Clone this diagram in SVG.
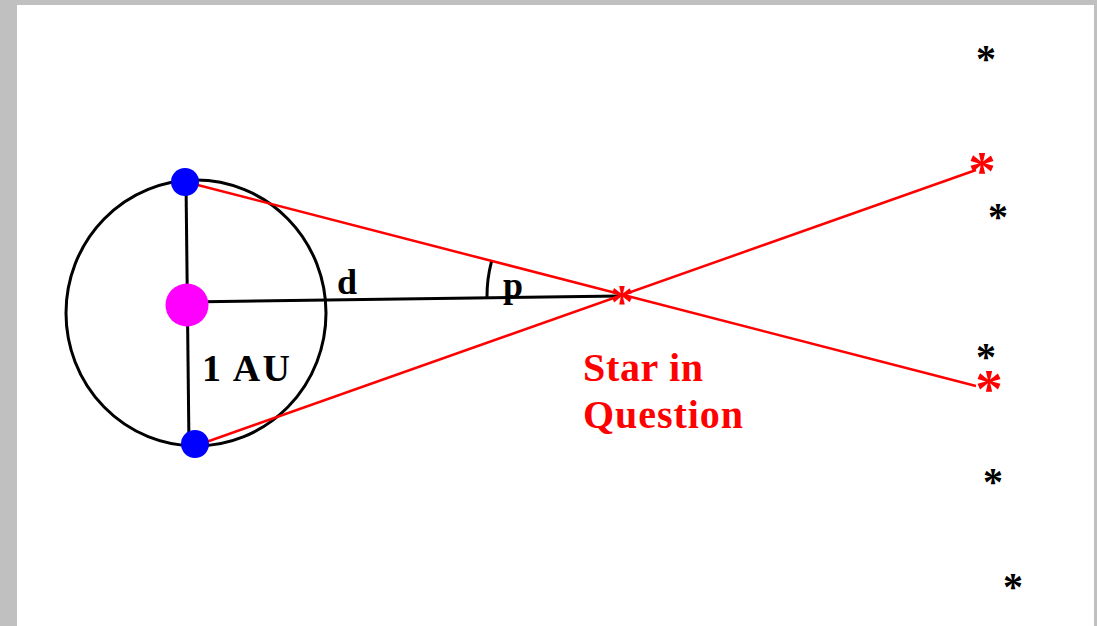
<svg xmlns="http://www.w3.org/2000/svg" width="1097" height="626" viewBox="0 0 1097 626">
<style>
.blk{stroke:#000;stroke-width:3;fill:none}
.red{stroke:#f00;stroke-width:2.5;fill:none}
.lbl{font-family:"Liberation Serif","Times New Roman",serif;font-weight:bold}
.star{font-family:"Liberation Serif","Times New Roman",serif;font-weight:bold;text-anchor:middle}
</style>
<rect x="0" y="0" width="1097" height="626" fill="#c0c0c0"/>
<rect x="17" y="5" width="1077" height="621" fill="#fff"/>
<g id="orbit">
<ellipse cx="196" cy="313" rx="130" ry="133" class="blk" stroke-width="2.5"/>
</g>
<g id="connectors">
<line x1="186" y1="182" x2="189" y2="446" class="blk"/>
<line x1="187" y1="302" x2="620" y2="296" class="blk"/>
<line x1="186" y1="182" x2="976" y2="386" class="red"/>
<line x1="195" y1="446" x2="976" y2="170" class="red"/>
<path d="M487,297 A135,135 0 0,1 491.4,261.8" class="blk" stroke-width="2.5"/>
</g>
<g id="sun"><ellipse cx="187" cy="305" rx="21.5" ry="21.5" fill="#f0f"/></g>
<g id="earth-top"><circle cx="185" cy="182" r="14" fill="#00f"/></g>
<g id="earth-bottom"><circle cx="195" cy="444" r="14" fill="#00f"/></g>
<g id="labels">
<text x="337" y="294" class="lbl" font-size="36">d</text>
<text x="503" y="297" class="lbl" font-size="36">p</text>
<text x="202" y="381" class="lbl" font-size="38" textLength="88">1 AU</text>
<text x="583" y="381" class="lbl" font-size="40" fill="#f00" textLength="120">Star in</text>
<text x="583" y="428" class="lbl" font-size="40" fill="#f00" textLength="160">Question</text>
</g>
<g id="star-question"><text x="622" y="318" class="star" font-size="48" fill="#f00">*</text></g>
<g id="red-stars">
<text x="982" y="189" class="star" font-size="55" fill="#f00">*</text>
<text x="989" y="407" class="star" font-size="55" fill="#f00">*</text>
</g>
<g id="black-stars">
<text x="986" y="72" class="star" font-size="40">*</text>
<text x="998" y="230" class="star" font-size="40">*</text>
<text x="986" y="370" class="star" font-size="40">*</text>
<text x="993" y="495" class="star" font-size="40">*</text>
<text x="1013" y="600" class="star" font-size="40">*</text>
</g>
</svg>
